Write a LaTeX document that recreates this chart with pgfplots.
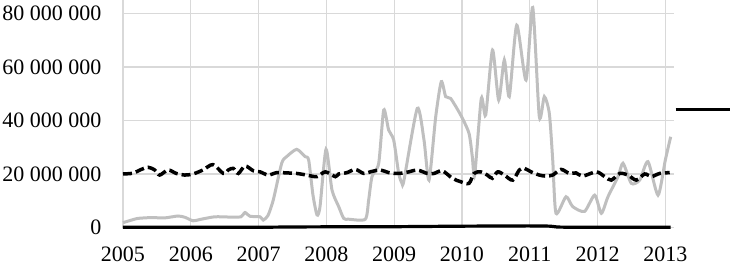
\documentclass[border=0pt]{standalone}
\usepackage{pgfplots}
\pgfplotsset{compat=1.18}
\usepackage{fontspec}
\setmainfont{Liberation Serif}
\definecolor{gridgray}{RGB}{217,217,217}
\definecolor{sergray}{RGB}{191,191,191}
\begin{document}
\begin{tikzpicture}
\useasboundingbox (-123pt,-35.5pt) rectangle (607pt,227.5pt);
\clip (-123pt,-35.5pt) rectangle (607pt,227.5pt);
\begin{axis}[
  at={(0pt,0pt)}, anchor=south west,
  scale only axis, width=551pt, height=227.5pt,
  xmin=2005, xmax=2013.128, ymin=0, ymax=85000000,
  axis line style={draw=none}, tick style={draw=none},
  xtick={2005,2006,2007,2008,2009,2010,2011,2012,2013},
  xticklabels={2005,2006,2007,2008,2009,2010,2011,2012,2013},
  ytick={0,20000000,40000000,60000000,80000000},
  yticklabels={0,20\ 000\ 000,40\ 000\ 000,60\ 000\ 000,80\ 000\ 000},
  grid=major, major grid style={gridgray, line width=1.3pt},
  ticklabel style={font=\fontsize{22}{24}\selectfont, inner sep=0pt, outer sep=0pt},
  xticklabel style={anchor=north, yshift=-19pt},
  yticklabel style={anchor=east, xshift=-21.5pt},
  clip=false,
  legend image code/.code={\draw[#1] (0pt,0pt) -- (80pt,0pt);},
  legend style={at={(axis cs:2013.128,44000000)}, anchor=west, draw=none, fill=none,
    inner sep=0pt, outer sep=0pt, nodes={inner sep=0pt, outer sep=0pt},
    /tikz/every even column/.style={column sep=0pt}},
]
% black solid near zero
\addplot[black, line width=3.2pt, smooth, forget plot] coordinates {
(2005.000,100000) (2006.000,100000) (2007.000,100000) (2007.500,200000)
(2008.000,250000) (2008.500,250000) (2009.000,300000) (2009.500,400000)
(2010.000,500000) (2010.500,550000) (2011.000,600000) (2011.300,500000)
(2011.450,150000) (2012.000,100000) (2012.500,100000) (2013.079,100000)
};
% gray series
\addplot[sergray, line width=3pt, smooth, tension=0.4, forget plot] coordinates {
(2005.000,1800000) (2005.103,2600000) (2005.221,3400000) (2005.413,3700000)
(2005.620,3600000) (2005.811,4300000) (2005.915,3800000) (2006.033,2500000)
(2006.136,3000000) (2006.353,4000000) (2006.578,3900000) (2006.740,4000000)
(2006.800,5600000) (2006.873,4200000) (2007.021,4000000) (2007.070,2800000)
(2007.139,4500000) (2007.217,10300000) (2007.341,24000000) (2007.415,26500000)
(2007.562,29200000) (2007.685,26500000) (2007.739,25200000) (2007.803,12000000)
(2007.862,4700000) (2007.906,7800000) (2007.995,29200000) (2008.083,14000000)
(2008.182,7800000) (2008.256,3400000) (2008.329,3100000) (2008.574,3100000)
(2008.624,10300000) (2008.673,19000000) (2008.772,24000000) (2008.846,43900000)
(2008.919,36400000) (2008.993,32700000) (2009.067,20200000) (2009.116,16500000)
(2009.145,17700000) (2009.341,44500000) (2009.440,32700000) (2009.514,17700000)
(2009.613,41400000) (2009.695,54500000) (2009.760,48900000) (2009.834,48200000)
(2009.982,42000000) (2010.104,35200000) (2010.153,26400000) (2010.188,19600000)
(2010.285,48200000) (2010.350,42000000) (2010.451,66300000) (2010.542,47600000)
(2010.625,62600000) (2010.698,48900000) (2010.808,75600000) (2010.945,55100000)
(2011.044,82200000) (2011.141,41400000) (2011.215,48900000) (2011.289,42600000)
(2011.339,25200000) (2011.387,5300000) (2011.535,11500000) (2011.634,7800000)
(2011.808,6000000) (2011.958,12100000) (2012.056,5300000) (2012.154,11500000)
(2012.302,19000000) (2012.376,24000000) (2012.498,16500000) (2012.622,17700000)
(2012.744,24600000) (2012.892,12100000) (2013.000,25200000) (2013.079,33900000)
};
% dashed series
\addplot[black, line width=3.5pt, smooth, dash pattern=on 9pt off 4pt, forget plot] coordinates {
(2005.000,20000000) (2005.148,20300000) (2005.251,21500000) (2005.369,22500000)
(2005.468,21500000) (2005.541,19600000) (2005.664,21500000) (2005.786,20200000)
(2005.910,19600000) (2006.033,20000000) (2006.180,21500000) (2006.328,23500000)
(2006.480,20200000) (2006.553,21500000) (2006.627,22100000) (2006.701,20200000)
(2006.800,23000000) (2006.922,21200000) (2007.021,20800000) (2007.143,19600000)
(2007.267,20500000) (2007.415,20400000) (2007.562,20200000) (2007.710,19600000)
(2007.862,19000000) (2007.984,20800000) (2008.132,19000000) (2008.182,20000000)
(2008.304,20500000) (2008.427,21700000) (2008.551,20200000) (2008.648,20800000)
(2008.796,21500000) (2008.919,20500000) (2009.067,20200000) (2009.219,20800000)
(2009.341,21500000) (2009.489,20200000) (2009.588,20200000) (2009.710,21200000)
(2009.858,18400000) (2009.982,17100000) (2010.104,16500000) (2010.178,20200000)
(2010.277,20800000) (2010.374,19600000) (2010.448,18400000) (2010.527,20800000)
(2010.625,19600000) (2010.749,17700000) (2010.846,21500000) (2010.920,22100000)
(2011.019,20800000) (2011.141,19600000) (2011.240,19200000) (2011.339,19600000)
(2011.461,21700000) (2011.584,20200000) (2011.683,20400000) (2011.781,19200000)
(2011.982,20800000) (2012.106,19000000) (2012.203,17700000) (2012.327,20200000)
(2012.449,19600000) (2012.572,17700000) (2012.696,20000000) (2012.793,19000000)
(2012.917,20200000) (2013.065,20500000)
};
\addlegendimage{black, line width=3.2pt}
\addlegendentry{}
\end{axis}
\end{tikzpicture}
\end{document}
